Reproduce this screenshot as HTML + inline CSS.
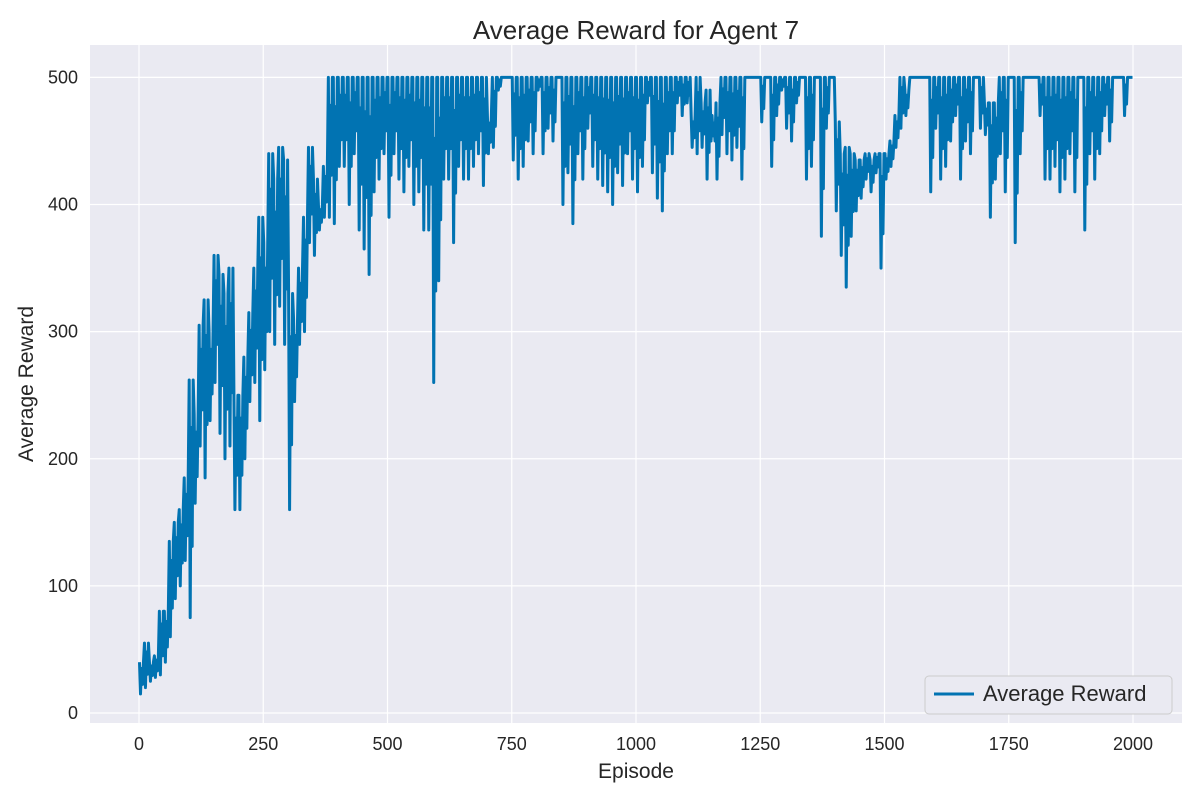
<!DOCTYPE html>
<html><head><meta charset="utf-8"><style>
body{margin:0;background:#fff;font-family:"Liberation Sans",sans-serif;}
svg text{font-family:"Liberation Sans",sans-serif;fill:#262626;}
</style></head><body>
<svg id="chart" width="1200" height="800" xmlns="http://www.w3.org/2000/svg">
<rect x="0" y="0" width="1200" height="800" fill="#fff"/>
<rect x="90" y="45" width="1092" height="678" fill="#eaeaf2"/>
<g id="grid"></g>
<g id="ticks"></g>
<g id="series"></g>
<text x="636" y="39" font-size="26" text-anchor="middle">Average Reward for Agent 7</text>
<text x="636" y="778" font-size="21" text-anchor="middle">Episode</text>
<text x="33" y="384" font-size="21" text-anchor="middle" transform="rotate(-90 33 384)">Average Reward</text>
<g>
<rect x="925" y="676" width="247" height="38" rx="4" fill="#eaeaf2" stroke="#cccccc" stroke-width="1"/>
<line x1="934" y1="694" x2="974" y2="694" stroke="#0173b2" stroke-width="3"/>
<text x="983" y="701" font-size="22">Average Reward</text>
</g>
</svg>
<script>
const xTicks=[0,250,500,750,1000,1250,1500,1750,2000];
const yTicks=[0,100,200,300,400,500];
const binSize=10;
const binHigh=[40,55,40,45,80,80,135,150,160,185,
262,235,305,325,300,360,345,330,350,250,
250,280,315,350,390,370,440,420,445,435,
330,310,350,390,445,420,400,430,500,500,
500,500,500,500,500,500,500,500,500,500,
500,500,500,500,500,500,500,500,500,500,
500,500,500,500,500,500,500,500,500,500,
470,500,500,500,500,500,500,500,500,500,
500,500,500,500,500,500,500,500,500,500,
500,500,500,500,500,500,500,500,500,500,
500,500,500,500,500,500,500,500,500,500,
500,470,500,480,490,450,480,500,500,500,
500,500,500,500,500,500,500,500,500,500,
500,500,500,500,500,500,500,500,500,500,
465,440,445,440,435,435,440,435,440,440,
440,450,470,500,490,500,500,500,500,500,
500,500,500,500,500,500,500,500,500,500,
480,480,480,500,500,500,500,500,500,500,
500,500,500,500,500,500,500,500,500,500,
500,500,500,500,500,500,500,500,500,500];
const binLow=[15,20,25,28,30,40,60,90,100,120,
75,165,210,185,230,260,220,200,210,160,
160,200,245,260,230,270,300,290,320,290,
160,245,290,300,370,360,380,390,390,385,
430,430,400,440,380,365,345,410,420,440,
390,440,420,410,430,400,410,380,380,260,
340,420,420,370,430,420,420,430,440,415,
440,445,490,500,500,435,420,430,450,440,
490,440,460,450,500,400,425,385,440,420,
460,430,420,415,410,400,425,415,440,420,
410,430,480,425,405,395,440,440,480,470,
480,445,440,445,420,470,420,455,440,435,
445,420,500,500,500,465,500,430,470,490,
460,450,480,500,420,430,500,375,460,500,
395,360,335,375,395,405,420,410,425,350,
420,430,445,460,470,500,500,500,500,410,
460,420,430,450,470,420,450,440,500,460,
455,390,420,440,410,500,370,440,500,500,
500,470,420,420,430,410,420,440,410,500,
380,440,420,440,470,450,500,500,470,500];
const X=v=>139+0.497*v, Y=v=>713-1.2712*v;
const NS="http://www.w3.org/2000/svg";
const grid=document.getElementById('grid'),ticks=document.getElementById('ticks'),ser=document.getElementById('series');
function mk(tag,attrs,parent){const e=document.createElementNS(NS,tag);for(const k in attrs)e.setAttribute(k,attrs[k]);parent.appendChild(e);return e;}
xTicks.forEach(t=>{
 const l=mk('line',{x1:X(t),x2:X(t),y1:45,y2:723,stroke:'#fff','stroke-width':1.2},grid);
 
 
 const tx=mk('text',{x:X(t),y:750,'font-size':18,'text-anchor':'middle'},ticks);tx.textContent=t;
 
 
});
yTicks.forEach(t=>{
 const l=mk('line',{x1:90,x2:1182,y1:Y(t),y2:Y(t),stroke:'#fff','stroke-width':1.2},grid);
 
 
 const tx=mk('text',{x:78,y:Y(t)+6,'font-size':18,'text-anchor':'end'},ticks);tx.textContent=t;
 
 
});
let pts=[];
binHigh.forEach((h,i)=>{
 const b=i*binSize;
 pts.push(X(b+1)+','+Y(h));
 pts.push(X(b+3)+','+Y(binLow[i]));
 pts.push(X(b+5)+','+Y((h+binLow[i])/2+ (h-binLow[i])*0.3));
 pts.push(X(b+7)+','+Y(binLow[i]+(h-binLow[i])*0.3));
 pts.push(X(b+9)+','+Y(h));
});
const p=mk('polyline',{points:pts.join(' '),fill:'none',stroke:'#0173b2','stroke-width':3,'stroke-linejoin':'round'},ser);


</script>
</body></html>
